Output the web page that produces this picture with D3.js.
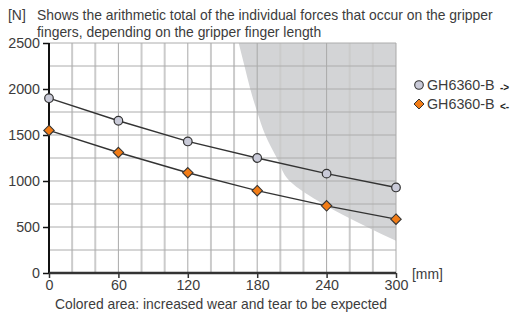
<!DOCTYPE html>
<html><head><meta charset="utf-8">
<script src="https://cdn.jsdelivr.net/npm/d3@7"></script>
<style>
html,body{margin:0;padding:0;background:#fff;}
svg{display:block;font-family:"Liberation Sans",Arial,sans-serif;}
</style></head>
<body><svg id="c" width="512" height="315"></svg>
<script>
const lengths = [0, 60, 120, 180, 240, 300];
const seriesOut = [1900, 1655, 1430, 1250, 1080, 930];
const seriesIn = [1550, 1310, 1090, 895, 730, 585];
const wearLength = [164, 169, 174, 180, 187, 197, 208, 237, 275, 300];
const wearForce = [2500, 2250, 2000, 1750, 1500, 1250, 1000, 750, 500, 350];
const xTicks = [0, 60, 120, 180, 240, 300];
const yTicks = [0, 500, 1000, 1500, 2000, 2500];
const legendLabels = ["GH6360-B", "GH6360-B"];
const legendArrows = ["->", "<-"];
const titleLines = ["Shows the arithmetic total of the individual forces that occur on the gripper", "fingers, depending on the gripper finger length"];

const svg = d3.select("#c");
const x = d3.scaleLinear().domain([0, 300]).range([49, 396]);
const y = d3.scaleLinear().domain([0, 2500]).range([273, 43]);
const textCol = "#3c3c3c";
const fs = 13.9;

// wear area
const wear = wearLength.map((l, i) => ({l, f: wearForce[i]}));
svg.append("defs").append("clipPath").attr("id", "pc").append("rect")
  .attr("x", x(0)).attr("y", y(2500)).attr("width", x(300) - x(0)).attr("height", y(0) - y(2500));
svg.append("path").datum(wear)
  .attr("clip-path", "url(#pc)")
  .attr("fill", "#d3d4d6")
  .attr("d", d3.area().curve(d3.curveMonotoneY).y(d => y(d.f)).x0(d => x(d.l)).x1(x(300)));

// grid
const g = svg.append("g");
d3.range(20, 301, 20).forEach(v => {
  const major = v % 60 === 0;
  g.append("line").attr("x1", x(v)).attr("x2", x(v)).attr("y1", y(2500)).attr("y2", y(0))
    .attr("stroke", major ? "#a9a9a9" : "#cbcbcb").attr("stroke-width", major ? 1 : 2);
});
d3.range(250, 2501, 250).forEach(v => {
  g.append("line").attr("x1", x(0)).attr("x2", x(300)).attr("y1", y(v)).attr("y2", y(v))
    .attr("stroke", "#acacac").attr("stroke-width", 1);
});

// axes
const ya = svg.append("g").attr("transform", `translate(${x(0)},0)`)
  .call(d3.axisLeft(y).tickValues(yTicks).tickSize(6).tickPadding(3).tickFormat(d3.format("d")));
ya.select(".domain").attr("stroke", "#111").attr("stroke-width", 2).attr("d", `M0,${y(2500)}V${y(0)}`);
ya.selectAll(".tick line").attr("stroke", "#111").attr("stroke-width", 1.5);
ya.selectAll(".tick text").attr("font-size", fs + 0.4).attr("fill", textCol).attr("font-family", "Liberation Sans, Arial, sans-serif");

const xa = svg.append("g").attr("transform", `translate(0,${y(0)})`)
  .call(d3.axisBottom(x).tickValues(xTicks).tickSize(5).tickPadding(2).tickFormat(d3.format("d")));
xa.select(".domain").attr("stroke", "#333").attr("stroke-width", 2.5).attr("d", `M${x(0)},0H${x(300)}`);
xa.selectAll(".tick line").attr("stroke", "#333").attr("stroke-width", 1.5);
xa.selectAll(".tick text").attr("font-size", fs + 0.4).attr("fill", textCol).attr("font-family", "Liberation Sans, Arial, sans-serif");

// series
const line = d3.line().x((d, i) => x(lengths[i])).y(d => y(d));
svg.append("path").datum(seriesOut).attr("fill", "none").attr("stroke", "#333").attr("stroke-width", 1.4).attr("d", line);
svg.append("path").datum(seriesIn).attr("fill", "none").attr("stroke", "#333").attr("stroke-width", 1.4).attr("d", line);
svg.selectAll("circle.p").data(seriesOut).join("circle").attr("class", "p")
  .attr("cx", (d, i) => x(lengths[i])).attr("cy", d => y(d)).attr("r", 4.3)
  .attr("fill", "#c9cad8").attr("stroke", "#333").attr("stroke-width", 1.2);
const diamond = s => `M0,${-s}L${s},0L0,${s}L${-s},0Z`;
svg.selectAll("path.dm").data(seriesIn).join("path").attr("class", "dm")
  .attr("transform", (d, i) => `translate(${x(lengths[i])},${y(d)})`)
  .attr("d", diamond(5.2)).attr("fill", "#f27c16").attr("stroke", "#333").attr("stroke-width", 1.1);

// legend
svg.append("circle").attr("cx", 419).attr("cy", 85).attr("r", 4.3)
  .attr("fill", "#c9cad8").attr("stroke", "#333").attr("stroke-width", 1.1);
svg.append("path").attr("transform", "translate(419,104)").attr("d", diamond(5))
  .attr("fill", "#f27c16").attr("stroke", "#333").attr("stroke-width", 1);
legendLabels.forEach((t, i) => {
  svg.append("text").attr("x", 427).attr("y", 90 + i * 19).attr("font-size", 14.3).attr("fill", textCol).text(t);
  svg.append("text").attr("x", 500).attr("y", 91 + i * 19).attr("font-size", 10).attr("font-weight", "bold").attr("fill", "#222").text(legendArrows[i]);
});

// titles
svg.append("text").attr("x", 8).attr("y", 20).attr("font-size", fs).attr("fill", textCol).text("[N]");
titleLines.forEach((t, i) => {
  svg.append("text").attr("x", 37).attr("y", 20 + i * 17).attr("font-size", fs).attr("fill", textCol).text(t);
});
svg.append("text").attr("x", 412).attr("y", 279).attr("font-size", fs).attr("fill", textCol).text("[mm]");
svg.append("text").attr("x", 55).attr("y", 309).attr("font-size", fs).attr("fill", textCol).text("Colored area: increased wear and tear to be expected");
</script></body></html>
